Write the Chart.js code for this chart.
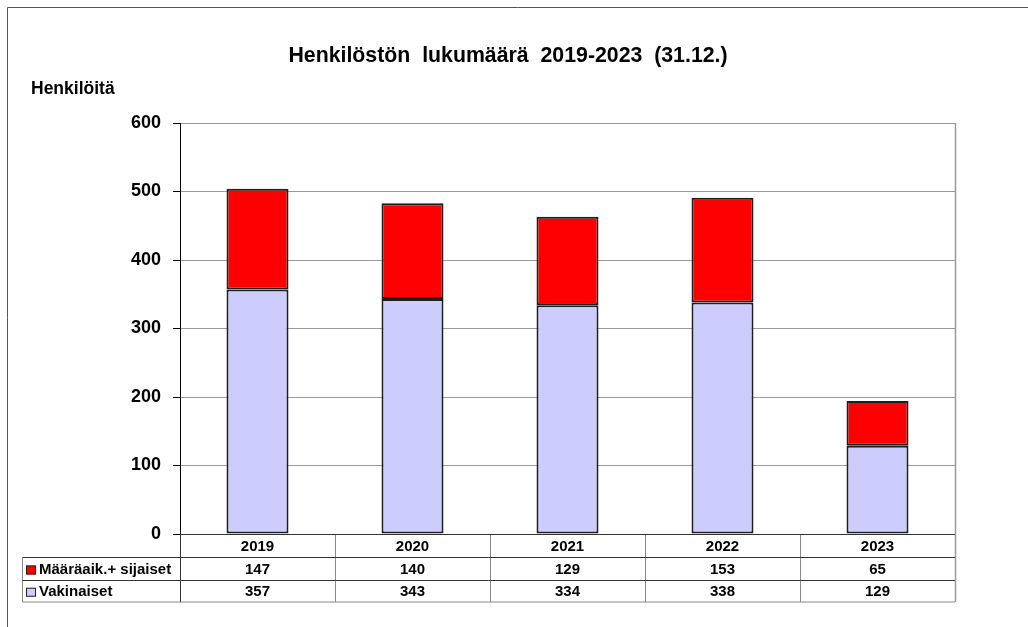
<!DOCTYPE html>
<html>
<head>
<meta charset="utf-8">
<style>
  html, body { margin: 0; padding: 0; background: #ffffff; }
  #wrap { width: 1028px; height: 627px; position: relative; }
</style>
<script src="https://cdn.jsdelivr.net/npm/chart.js@4/dist/chart.umd.min.js"></script>
</head>
<body>
<div id="wrap"><canvas id="c" width="1028" height="627"></canvas></div>
<script>
// ---- data ----
const years = ['2019', '2020', '2021', '2022', '2023'];
const vakinaiset = [357, 343, 334, 338, 129];
const maaraaikaiset = [147, 140, 129, 153, 65];
const seriesLabels = ['Määräaik.+ sijaiset', 'Vakinaiset'];
const yTicks = [0, 100, 200, 300, 400, 500, 600];
const chartTitle = 'Henkilöstön  lukumäärä  2019-2023  (31.12.)';
const yAxisTitle = 'Henkilöitä';

const COLOR_TEMP = '#FF0000';
const COLOR_PERM = '#CCCCFF';
const FONT = "'Liberation Sans', Arial, sans-serif";

const decorPlugin = {
  id: 'decor',
  beforeDraw(chart) {
    const ctx = chart.ctx;
    ctx.save();
    ctx.fillStyle = '#fff';
    ctx.fillRect(0, 0, chart.width, chart.height);
    // page frame
    ctx.strokeStyle = '#555';
    ctx.lineWidth = 1;
    ctx.beginPath();
    ctx.moveTo(7.5, chart.height);
    ctx.lineTo(7.5, 7.5);
    ctx.lineTo(chart.width, 7.5);
    ctx.stroke();
    ctx.restore();
  },
  afterDraw(chart) {
    const ctx = chart.ctx;
    const area = chart.chartArea;
    const xs = chart.scales.x;
    ctx.save();
    // title
    ctx.fillStyle = '#000';
    ctx.textAlign = 'center';
    ctx.textBaseline = 'middle';
    ctx.font = 'bold 21.3px ' + FONT;
    ctx.fillText(chartTitle, 508, 56);
    // y axis title
    ctx.textAlign = 'left';
    ctx.font = 'bold 17.5px ' + FONT;
    ctx.fillText(yAxisTitle, 31, 89);

    // data table
    const n = years.length;
    const colW = (area.right - area.left) / n;
    const top = area.bottom;
    const r1 = top + 23.5;
    const r2 = r1 + 23;
    const bot = r2 + 21.5;
    const tableLeft = 22.5;

    // right plot border
    ctx.strokeStyle = '#9a9a9a';
    ctx.lineWidth = 1.5;
    ctx.beginPath();
    ctx.moveTo(area.right + 0.5, area.top);
    ctx.lineTo(area.right + 0.5, bot);
    ctx.stroke();

    // column separators (gray)
    ctx.lineWidth = 1;
    ctx.strokeStyle = '#8a8a8a';
    ctx.beginPath();
    for (let i = 1; i < n; i++) {
      const x = Math.round(xs.getPixelForValue(i) - colW / 2) + 0.5;
      ctx.moveTo(x, top);
      ctx.lineTo(x, bot);
    }
    ctx.moveTo(tableLeft, r1);
    ctx.lineTo(tableLeft, bot);
    ctx.moveTo(tableLeft, bot);
    ctx.lineTo(area.right, bot);
    ctx.stroke();

    // dark lines
    ctx.strokeStyle = '#333';
    ctx.beginPath();
    ctx.moveTo(area.left, top + 0.5);
    ctx.lineTo(area.right, top + 0.5);
    ctx.moveTo(tableLeft, r1);
    ctx.lineTo(area.right, r1);
    ctx.moveTo(tableLeft, r2);
    ctx.lineTo(area.right, r2);
    ctx.moveTo(area.left + 0.5, top);
    ctx.lineTo(area.left + 0.5, bot);
    ctx.stroke();

    // texts
    ctx.fillStyle = '#000';
    ctx.font = 'bold 15px ' + FONT;
    ctx.textAlign = 'center';
    ctx.textBaseline = 'middle';
    const rows = [maaraaikaiset, vakinaiset];
    const rowY = [(r1 + r2) / 2 + 1, (r2 + bot) / 2 + 1];
    for (let i = 0; i < n; i++) {
      const cx = xs.getPixelForValue(i);
      ctx.fillText(years[i], cx, (top + r1) / 2 + 1);
      ctx.fillText(String(rows[0][i]), cx, rowY[0]);
      ctx.fillText(String(rows[1][i]), cx, rowY[1]);
    }
    // legend keys + labels
    const keyColors = [COLOR_TEMP, COLOR_PERM];
    ctx.textAlign = 'left';
    for (let r = 0; r < 2; r++) {
      ctx.fillStyle = keyColors[r];
      ctx.fillRect(26, rowY[r] - 4.5, 10, 9);
      ctx.strokeStyle = '#222';
      ctx.lineWidth = 1;
      ctx.strokeRect(26.5, rowY[r] - 4, 9, 8);
      ctx.fillStyle = '#000';
      ctx.fillText(seriesLabels[r], 39, rowY[r]);
    }
    ctx.restore();
  }
};

new Chart(document.getElementById('c'), {
  type: 'bar',
  data: {
    labels: years,
    datasets: [
      {
        label: seriesLabels[1],
        data: vakinaiset,
        backgroundColor: COLOR_PERM,
        borderColor: '#1e1e1e',
        borderWidth: 2,
        borderSkipped: false
      },
      {
        label: seriesLabels[0],
        data: maaraaikaiset,
        backgroundColor: COLOR_TEMP,
        borderColor: '#1e1e1e',
        borderWidth: 2,
        borderSkipped: false
      }
    ]
  },
  options: {
    responsive: false,
    animation: false,
    layout: { padding: { left: 20, right: 73, top: 123, bottom: 93 } },
    datasets: { bar: { barPercentage: 0.4, categoryPercentage: 1.0 } },
    plugins: {
      legend: { display: false },
      title: { display: false },
      tooltip: { enabled: false }
    },
    scales: {
      x: {
        stacked: true,
        display: false
      },
      y: {
        stacked: true,
        min: 0,
        max: 600,
        afterFit(scale) { scale.width = 160; },
        afterBuildTicks(scale) { scale.ticks = yTicks.map(v => ({ value: v })); },
        border: { display: true, color: '#000', width: 1 },
        grid: {
          color: (c) => (c.tick && c.tick.value === 0) ? '#333' : '#9a9a9a',
          lineWidth: 1,
          tickLength: 7,
          tickColor: '#000',
          drawTicks: true
        },
        ticks: {
          padding: 12,
          color: '#000',
          font: { family: FONT, size: 18, weight: 'bold' }
        }
      }
    }
  },
  plugins: [decorPlugin]
});
</script>
</body>
</html>
